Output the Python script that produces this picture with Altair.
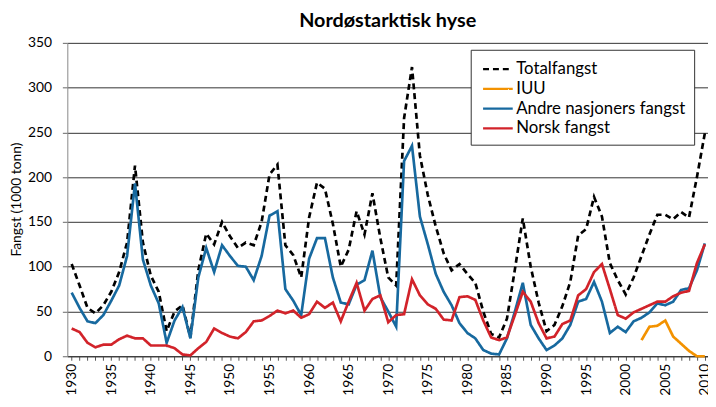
import altair as alt
import pandas as pd

years = list(range(1930, 2011))

total = [103, 79, 54, 48, 57, 72, 94, 127, 213, 127,
         90, 72, 28, 50, 57, 21, 96, 137, 125, 150,
         134, 121, 127, 124, 150, 203, 214, 124, 113, 88,
         155, 194, 187, 148, 100, 119, 162, 136, 182, 132,
         88, 79, 266, 323, 224, 180, 145, 115, 96, 103,
         92, 82, 50, 25, 21, 42, 97, 154, 100, 60,
         28, 35, 56, 83, 135, 142, 178, 156, 104, 85,
         69, 88, 112, 136, 158, 158, 153, 161, 155, 200,
         249]

andre = [71, 54, 39, 37, 46, 62, 79, 112, 193, 108,
         79, 59, 15, 40, 55, 20, 88, 121, 94, 124,
         112, 101, 100, 85, 112, 157, 162, 75, 62, 46,
         109, 132, 132, 88, 60, 58, 80, 85, 118, 66,
         50, 33, 218, 235, 156, 125, 92, 72, 57, 37,
         26, 20, 7, 3, 2, 20, 50, 82, 35, 20,
         7, 12, 20, 35, 61, 64, 83, 61, 26, 33,
         27, 39, 43, 49, 59, 57, 61, 74, 76, 96,
         126]

norsk = [31, 27, 15, 10, 13, 13, 19, 23, 20, 20,
         12, 12, 12, 9, 2, 1, 9, 16, 31, 26,
         22, 20, 27, 39, 40, 45, 51, 48, 51, 43,
         47, 61, 54, 60, 39, 61, 82, 51, 64, 68,
         38, 46, 47, 86, 68, 58, 53, 41, 40, 66,
         67, 63, 40, 21, 18, 21, 46, 72, 61, 37,
         20, 22, 36, 40, 68, 75, 94, 103, 75, 46,
         42, 49, 53, 57, 61, 61, 67, 71, 73, 104,
         125]

iuu_years = list(range(2002, 2011))
iuu = [18, 33, 34, 40, 22, 14, 6, 0, 0]

series_names = ["Totalfangst", "IUU", "Andre nasjoners fangst", "Norsk fangst"]
series_colors = ["#000000", "#F39200", "#17699F", "#D2232A"]
series_dashes = [[6, 4], [1, 0], [1, 0], [1, 0]]

rows = []
for yr, v in zip(years, total):
    rows.append({"year": yr, "value": v, "series": "Totalfangst"})
for yr, v in zip(iuu_years, iuu):
    rows.append({"year": yr, "value": v, "series": "IUU"})
for yr, v in zip(years, andre):
    rows.append({"year": yr, "value": v, "series": "Andre nasjoners fangst"})
for yr, v in zip(years, norsk):
    rows.append({"year": yr, "value": v, "series": "Norsk fangst"})
df = pd.DataFrame(rows)

FONT = "Lato"

x_enc = alt.X(
    "year:Q",
    scale=alt.Scale(domain=[1929.45, 2010.4], nice=False, zero=False),
    axis=alt.Axis(
        values=years,
        labelExpr="datum.value % 5 == 0 ? '' + datum.value : ''",
        labelAngle=-90,
        labelOverlap=False,
        labelFontSize=14,
        labelFont=FONT,
        labelColor="#000000",
        labelPadding=3,
        tickSize=4,
        tickColor="#555555",
        domainColor="#333333",
        grid=False,
        title=None,
    ),
)

y_enc = alt.Y(
    "value:Q",
    scale=alt.Scale(domain=[0, 350], nice=False),
    axis=alt.Axis(
        values=[0, 50, 100, 150, 200, 250, 300, 350],
        title="Fangst (1000 tonn)",
        titleFont=FONT,
        titleFontSize=14,
        titleFontWeight="normal",
        titleColor="#000000",
        titleX=-51,
        titleY=158,
        titleAngle=-90,
        titleAlign="center",
        titleBaseline="middle",
        labelFontSize=14,
        labelFont=FONT,
        labelColor="#000000",
        labelPadding=11,
        tickSize=5,
        tickColor="#666666",
        domainColor="#888888",
        grid=True,
        gridColor="#333333",
        gridWidth=1,
    ),
)

color_enc = alt.Color(
    "series:N",
    scale=alt.Scale(domain=series_names, range=series_colors),
    legend=alt.Legend(title=None),
)
dash_enc = alt.StrokeDash(
    "series:N",
    scale=alt.Scale(domain=series_names, range=series_dashes),
    legend=alt.Legend(title=None),
)

base = alt.Chart(df).mark_line(strokeWidth=2.7).encode(
    x=x_enc, y=y_enc, color=color_enc, strokeDash=dash_enc
)

layers = [base.transform_filter(alt.datum.series == s) for s in series_names]

chart = (
    alt.layer(*layers)
    .properties(
        width=648,
        height=317,
        padding={"left": 60, "top": 33, "right": 0, "bottom": 44},
        autosize="none",
        title=alt.Title(
            "Nordøstarktisk hyse",
            font=FONT,
            fontSize=20,
            fontWeight="bold",
            color="#000000",
            anchor="middle",
            frame="group",
            offset=5,
        ),
    )
    .configure_view(stroke=None)
    .configure_legend(
        orient="none",
        legendX=408,
        legendY=7,
        fillColor="#ffffff",
        strokeColor="#333333",
        padding=8,
        rowPadding=-1,
        symbolType="M-1.5,0H1.5",
        symbolSize=400,
        symbolStrokeWidth=2.2,
        symbolOffset=8,
        labelOffset=7,
        labelFont=FONT,
        labelFontSize=17,
        labelColor="#000000",
        labelLimit=400,
        cornerRadius=0,
    )
)

chart.save("out.html", embed_options={"renderer": "svg", "actions": False})
